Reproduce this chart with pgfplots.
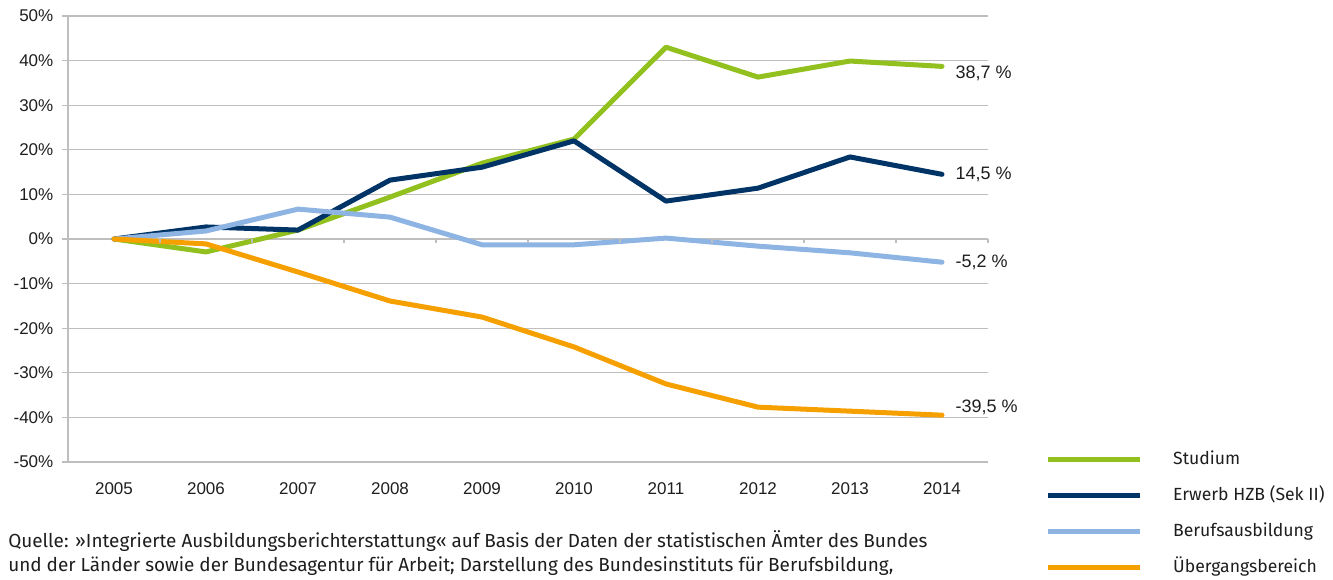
\documentclass[border=0pt]{standalone}
\usepackage{pgfplots}
\pgfplotsset{compat=1.18}
\usepackage{fontspec}
\setmainfont{Liberation Sans}
\newfontfamily\legfont{Fira Sans}
\definecolor{cgreen}{RGB}{146,192,30}
\definecolor{cdark}{RGB}{0,51,102}
\definecolor{clight}{RGB}{141,180,226}
\definecolor{corange}{RGB}{246,160,0}
\definecolor{cgrid}{RGB}{190,190,190}
\definecolor{ctext}{RGB}{30,30,30}
\begin{document}
\begin{tikzpicture}[x=1pt,y=1pt]
\path (0,0) rectangle (999.75,434.25);
\begin{axis}[
  at={(51pt,87.75pt)}, anchor=south west,
  scale only axis, width=690pt, height=334.5pt,
  xmin=-0.5, xmax=9.5, ymin=-50, ymax=50,
  xtick={0,...,9}, xticklabels={2005,2006,2007,2008,2009,2010,2011,2012,2013,2014},
  ytick={-50,-40,...,50},
  yticklabel={\pgfmathprintnumber{\tick}\%},
  /pgf/number format/assume math mode=true,
  ymajorgrids, grid style={cgrid, line width=1pt},
  axis x line*=bottom, axis y line*=left,
  x axis line style={draw=none},
  y axis line style={cgrid, line width=1pt, -},
  xtick style={draw=none},
  ytick style={cgrid, line width=1pt},
  ytick align=outside, major tick length=4.5pt,
  tick label style={font=\fontsize{12.75}{14}\selectfont, text=ctext},
  yticklabel style={xshift=-3pt},
  xticklabel style={yshift=-12pt},
  clip=false,
  legend style={at={(1.062,0.031)}, anchor=north west, draw=none, fill=none,
    font=\legfont\fontsize{13.2}{15}\selectfont, text=ctext,
    row sep=10pt, inner sep=0pt,
    nodes={text height=10pt, text depth=3pt, inner sep=2pt}},
  legend cell align=left,
  legend image code/.code={\draw[#1, line width=3.75pt, line cap=butt] (0pt,0pt) -- (69pt,0pt); \path[draw=none] (0pt,0pt) -- (92pt,0pt);},
  every axis plot/.append style={line width=3.75pt, line cap=round, line join=round, mark=none},
]
\addplot[cgreen] coordinates {(0,0) (1,-2.9) (2,2.0) (3,9.4) (4,17.0) (5,22.4) (6,43.0) (7,36.3) (8,39.9) (9,38.7)}
  node[pos=1, anchor=west, xshift=5pt, yshift=-5pt, font=\fontsize{13.5}{15}\selectfont, text=ctext] {38,7 \%};
\addlegendentry{Studium}
\addplot[cdark] coordinates {(0,0) (1,2.7) (2,2.0) (3,13.2) (4,16.1) (5,22.0) (6,8.5) (7,11.4) (8,18.4) (9,14.5)}
  node[pos=1, anchor=west, xshift=5pt, font=\fontsize{13.5}{15}\selectfont, text=ctext] {14,5 \%};
\addlegendentry{Erwerb HZB (Sek II)}
\addplot[clight] coordinates {(0,0) (1,1.8) (2,6.7) (3,4.9) (4,-1.3) (5,-1.3) (6,0.2) (7,-1.6) (8,-3.1) (9,-5.2)}
  node[pos=1, anchor=west, xshift=5pt, font=\fontsize{13.5}{15}\selectfont, text=ctext] {-5,2 \%};
\addlegendentry{Berufsausbildung}
\addplot[corange] coordinates {(0,0) (1,-1.1) (2,-7.4) (3,-13.9) (4,-17.5) (5,-24.2) (6,-32.5) (7,-37.7) (8,-38.6) (9,-39.5)}
  node[pos=1, anchor=west, xshift=5pt, yshift=6pt, font=\fontsize{13.5}{15}\selectfont, text=ctext] {-39,5 \%};
\addlegendentry{Übergangsbereich}
\pgfplotsinvokeforeach{-0.5,0.5,1.5,2.5,3.5,4.5,5.5,6.5,7.5,8.5,9.5}{
  \draw[cgrid, line width=1pt] (axis cs:#1,0) -- ++(0pt,-3pt);
}
\end{axis}
\node[anchor=base west, inner sep=0pt, font=\legfont\fontsize{14.2}{16}\selectfont, text=ctext] at (6pt,24pt)
  {Quelle: »Integrierte Ausbildungsberichterstattung« auf Basis der Daten der statistischen Ämter des Bundes};
\node[anchor=base west, inner sep=0pt, font=\legfont\fontsize{14.2}{16}\selectfont, text=ctext] at (6pt,6pt)
  {und der Länder sowie der Bundesagentur für Arbeit; Darstellung des Bundesinstituts für Berufsbildung,};
\end{tikzpicture}
\end{document}
